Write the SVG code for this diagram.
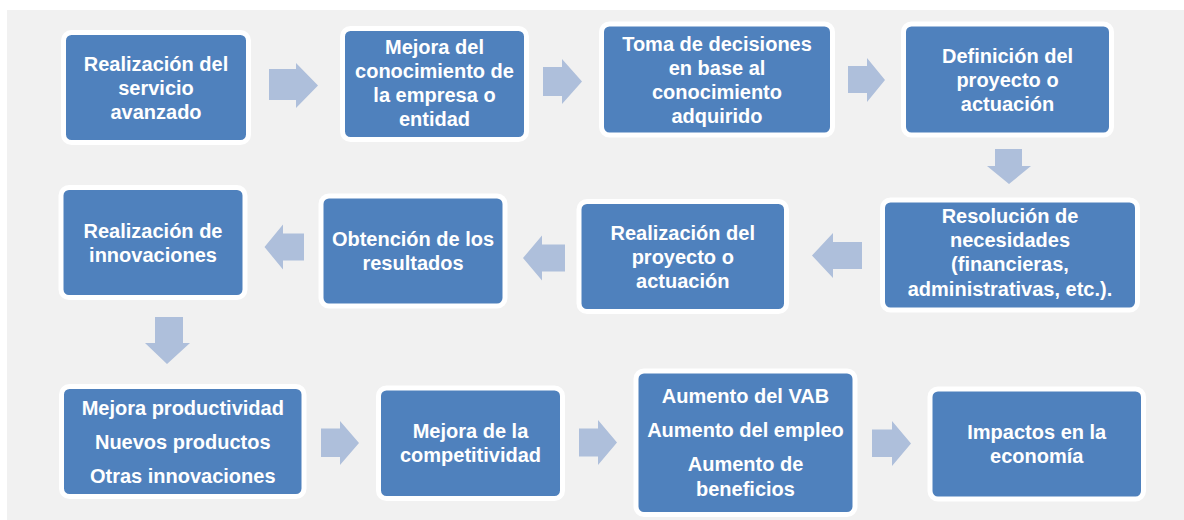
<svg xmlns="http://www.w3.org/2000/svg" width="1184" height="520" viewBox="0 0 1184 520">
<style>
.box{fill:#4F81BD;stroke:#FFFFFF;stroke-width:5}
.arr{fill:#AEBFDB}
text{font-family:"Liberation Sans",Arial,sans-serif;font-weight:bold;font-size:20px;fill:#FFFFFF;text-anchor:middle}
</style>
<rect x="0" y="0" width="1184" height="520" fill="#FFFFFF"/>
<rect x="7" y="10" width="1177" height="510" fill="#F1F1F1"/>
<g id="connectors">
<polygon class="arr" points="269,69 296,69 296,63 318,85.5 296,108 296,100 269,100"/>
<polygon class="arr" points="543,67 562,67 562,59 582,81.5 562,104 562,96 543,96"/>
<polygon class="arr" points="848,66 867,66 867,58 885,80 867,102 867,93 848,93"/>
<polygon class="arr" points="995,149 1022,149 1022,166 1031,166 1009,184 987,166 995,166"/>
<polygon class="arr" points="862,242 833,242 833,233 812,255.5 833,278 833,269 862,269"/>
<polygon class="arr" points="565,244.5 542,244.5 542,235.5 523,258 542,280.5 542,271.5 565,271.5"/>
<polygon class="arr" points="304,233.5 283,233.5 283,224.5 264.5,247 283,269.5 283,260.5 304,260.5"/>
<polygon class="arr" points="155,317 183,317 183,343 190,343 167,364 145,343 155,343"/>
<polygon class="arr" points="321,428.5 340,428.5 340,421 359,443 340,465 340,457 321,457"/>
<polygon class="arr" points="579,428.5 598,428.5 598,420 617,442.5 598,465 598,456.5 579,456.5"/>
<polygon class="arr" points="872,429.5 892,429.5 892,421 911,443.5 892,466 892,457 872,457"/>
</g>
<g id="n1">
<rect class="box" x="63.5" y="32.5" width="185" height="110" rx="8"/>
<text x="156" y="71">Realización del</text>
<text x="156" y="95">servicio</text>
<text x="156" y="119">avanzado</text>
</g>
<g id="n2">
<rect class="box" x="342.5" y="28.5" width="184" height="111" rx="8"/>
<text x="434.5" y="54">Mejora del</text>
<text x="434.5" y="78">conocimiento de</text>
<text x="434.5" y="102">la empresa o</text>
<text x="434.5" y="126">entidad</text>
</g>
<g id="n3">
<rect class="box" x="601.5" y="24" width="231" height="111" rx="8"/>
<text x="717" y="51">Toma de decisiones</text>
<text x="717" y="75">en base al</text>
<text x="717" y="99">conocimiento</text>
<text x="717" y="123">adquirido</text>
</g>
<g id="n4">
<rect class="box" x="903.5" y="24" width="208" height="111" rx="8"/>
<text x="1007.5" y="63">Definición del</text>
<text x="1007.5" y="87">proyecto o</text>
<text x="1007.5" y="111">actuación</text>
</g>
<g id="n5">
<rect class="box" x="882.5" y="200" width="255" height="110" rx="8"/>
<text x="1010" y="223">Resolución de</text>
<text x="1010" y="247">necesidades</text>
<text x="1010" y="271">(financieras,</text>
<text x="1010" y="296">administrativas, etc.).</text>
</g>
<g id="n6">
<rect class="box" x="579" y="201.5" width="207.5" height="110" rx="8"/>
<text x="682.75" y="240">Realización del</text>
<text x="682.75" y="264">proyecto o</text>
<text x="682.75" y="288">actuación</text>
</g>
<g id="n7">
<rect class="box" x="61" y="187.5" width="184" height="110" rx="8"/>
<text x="153" y="238">Realización de</text>
<text x="153" y="262">innovaciones</text>
</g>
<g id="n8">
<rect class="box" x="321" y="196" width="184" height="110" rx="8"/>
<text x="413" y="246">Obtención de los</text>
<text x="413" y="270">resultados</text>
</g>
<g id="n9">
<rect class="box" x="61.5" y="386.5" width="242.5" height="110" rx="8"/>
<text x="182.75" y="415">Mejora productividad</text>
<text x="182.75" y="449">Nuevos productos</text>
<text x="182.75" y="483">Otras innovaciones</text>
</g>
<g id="n10">
<rect class="box" x="378.5" y="388" width="184" height="110.5" rx="8"/>
<text x="470.5" y="438">Mejora de la</text>
<text x="470.5" y="462">competitividad</text>
</g>
<g id="n11">
<rect class="box" x="636" y="371" width="219" height="143.5" rx="8"/>
<text x="745.5" y="403">Aumento del VAB</text>
<text x="745.5" y="437">Aumento del empleo</text>
<text x="745.5" y="471">Aumento de</text>
<text x="745.5" y="496">beneficios</text>
</g>
<g id="n12">
<rect class="box" x="930" y="389" width="213.5" height="110" rx="8"/>
<text x="1036.75" y="439">Impactos en la</text>
<text x="1036.75" y="463">economía</text>
</g>
</svg>
